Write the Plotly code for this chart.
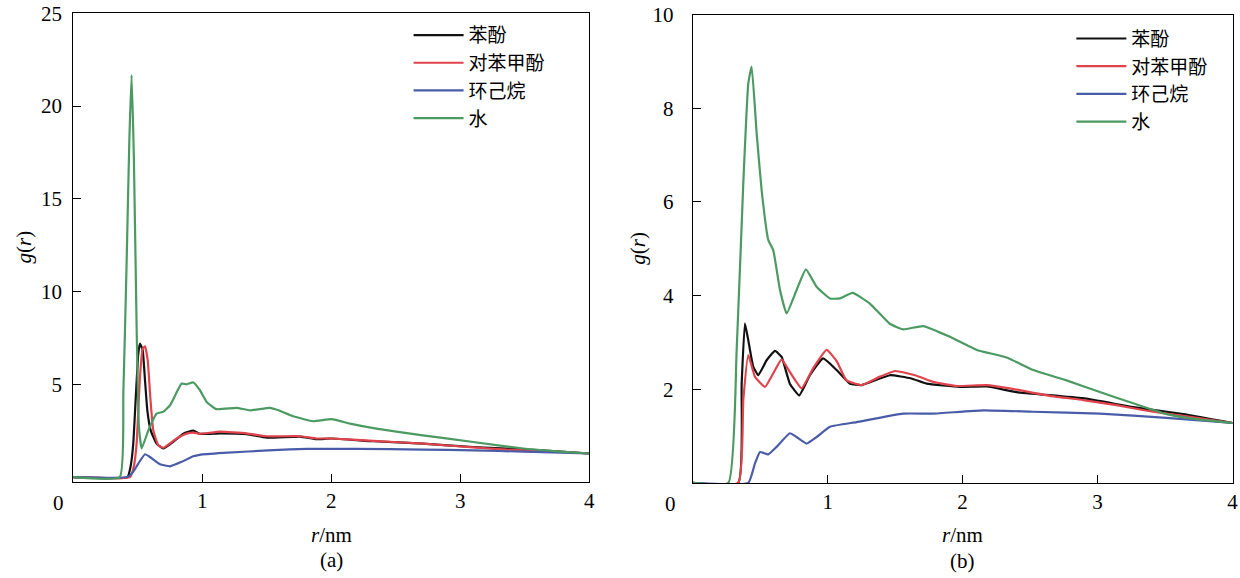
import plotly.graph_objects as go

# ---- data: (a) and (b) radial distribution functions ----
a_phenol_r = [0, 0.42, 0.445, 0.465, 0.486, 0.504, 0.517, 0.538, 0.556, 0.574, 0.60, 0.646, 0.698,
              0.775, 0.853, 0.93, 0.98, 1.137, 1.344, 1.5, 1.757, 1.887, 2.0, 2.326, 2.71, 3.1, 3.36, 3.75, 4.0]
a_phenol_g = [0, 0, 0.6, 1.8, 4.5, 6.66, 7.2, 6.84, 5.22, 3.6, 2.52, 1.8, 1.54,
              1.9, 2.34, 2.5, 2.33, 2.36, 2.32, 2.12, 2.18, 2.04, 2.08, 1.93, 1.8, 1.62, 1.54, 1.39, 1.27]

a_cresol_r = [0, 0.44, 0.47, 0.491, 0.517, 0.538, 0.556, 0.577, 0.595, 0.62, 0.659, 0.698, 0.80,
              0.879, 0.93, 0.98, 1.137, 1.344, 1.5, 1.757, 1.887, 2.0, 2.326, 2.71, 3.1, 3.36, 3.75, 4.0]
a_cresol_g = [0, 0, 0.6, 1.8, 5.4, 6.93, 7.05, 6.3, 4.5, 2.52, 1.72, 1.58, 2.07,
              2.34, 2.4, 2.33, 2.45, 2.36, 2.2, 2.2, 2.08, 2.08, 1.95, 1.8, 1.6, 1.48, 1.37, 1.27]

a_hexane_r = [0, 0.42, 0.465, 0.504, 0.556, 0.595, 0.672, 0.75, 0.84, 0.93, 0.98, 1.163, 1.55,
              1.81, 2.2, 2.71, 3.1, 3.49, 4.0]
a_hexane_g = [0, 0, 0.28, 0.73, 1.23, 1.08, 0.69, 0.58, 0.82, 1.12, 1.2, 1.3, 1.45,
              1.52, 1.52, 1.48, 1.44, 1.37, 1.27]

a_water_r = [0, 0.36, 0.388, 0.414, 0.434, 0.452, 0.47, 0.491, 0.509, 0.53, 0.582, 0.646, 0.698,
             0.75, 0.84, 0.879, 0.93, 0.982, 1.034, 1.11, 1.266, 1.37, 1.525, 1.59, 1.705, 1.86,
             2.003, 2.145, 2.35, 2.71, 3.1, 3.49, 3.75, 4.0]
a_water_g = [0, 0, 4.5, 11.7, 18.0, 21.67, 17.1, 8.1, 2.7, 1.54, 2.52, 3.42, 3.52,
             3.87, 5.04, 5.0, 5.1, 4.68, 4.05, 3.66, 3.73, 3.6, 3.73, 3.6, 3.28, 3.01,
             3.12, 2.88, 2.61, 2.25, 1.89, 1.54, 1.39, 1.27]

b_phenol_r = [0, 0.338, 0.363, 0.387, 0.412, 0.449, 0.486, 0.548, 0.61, 0.659, 0.72, 0.79, 0.869,
              0.967, 1.067, 1.165, 1.252, 1.461, 1.62, 1.733, 1.98, 2.18, 2.4, 2.89, 3.264, 3.634, 4.0]
b_phenol_g = [0, 0, 2.12, 3.41, 3.05, 2.48, 2.3, 2.62, 2.82, 2.69, 2.12, 1.87, 2.3,
              2.66, 2.41, 2.12, 2.09, 2.30, 2.23, 2.12, 2.05, 2.06, 1.94, 1.81, 1.62, 1.47, 1.28]

b_cresol_r = [0, 0.338, 0.375, 0.412, 0.461, 0.536, 0.597, 0.659, 0.72, 0.807, 0.893, 0.993, 1.067,
              1.14, 1.252, 1.387, 1.5, 1.647, 1.78, 1.956, 2.18, 2.35, 2.647, 2.893, 3.14, 3.387, 3.634, 4.0]
b_cresol_g = [0, 0, 1.77, 2.73, 2.27, 2.05, 2.34, 2.64, 2.37, 2.02, 2.45, 2.84, 2.6,
              2.19, 2.09, 2.27, 2.39, 2.30, 2.16, 2.07, 2.09, 2.02, 1.86, 1.77, 1.66, 1.53, 1.43, 1.28]

b_hexane_r = [0, 0.412, 0.461, 0.499, 0.56, 0.622, 0.72, 0.77, 0.844, 0.918, 1.017, 1.215, 1.56,
              1.78, 2.153, 2.52, 3.017, 3.51, 4.0]
b_hexane_g = [0, 0, 0.41, 0.66, 0.61, 0.77, 1.06, 0.98, 0.84, 0.98, 1.2, 1.30, 1.48,
              1.48, 1.55, 1.52, 1.48, 1.39, 1.28]

b_water_r = [0, 0.264, 0.326, 0.375, 0.412, 0.437, 0.474, 0.511, 0.56, 0.597, 0.647, 0.696, 0.77,
             0.839, 0.918, 1.017, 1.09, 1.185, 1.313, 1.46, 1.56, 1.708, 1.906, 2.104, 2.326,
             2.523, 2.77, 3.017, 3.264, 3.51, 3.758, 4.0]
b_water_g = [0, 0, 2.84, 6.4, 8.53, 8.89, 7.47, 6.25, 5.19, 4.97, 4.12, 3.62, 4.12,
             4.56, 4.19, 3.94, 3.94, 4.06, 3.83, 3.4, 3.28, 3.35, 3.12, 2.84, 2.68,
             2.41, 2.19, 1.94, 1.70, 1.47, 1.35, 1.28]

names = ["苯酚", "对苯甲酚", "环己烷", "水"]
colors = ["#111111", "#e0434c", "#4a5ca8", "#4b9a62"]

x_ticks = [0, 1, 2, 3, 4]
x_ticktext = ["", "1", "2", "3", "4"]
a_y_ticks = [5, 10, 15, 20, 25]
b_y_ticks = [2, 4, 6, 8, 10]

SERIF = "Liberation Serif, Times New Roman, Noto Sans CJK SC, serif"
CJK = "Liberation Serif, Noto Sans CJK SC, serif"

panels = [
    ("x", "y", "legend", [(a_phenol_r, a_phenol_g), (a_cresol_r, a_cresol_g),
                          (a_hexane_r, a_hexane_g), (a_water_r, a_water_g)]),
    ("x2", "y2", "legend2", [(b_phenol_r, b_phenol_g), (b_cresol_r, b_cresol_g),
                             (b_hexane_r, b_hexane_g), (b_water_r, b_water_g)]),
]

fig = go.Figure()
for xa, ya, leg, series in panels:
    for (r, g), name, color in zip(series, names, colors):
        fig.add_trace(go.Scatter(
            x=r, y=g, name=name, mode="lines",
            line=dict(color=color, width=2.2, shape="spline", smoothing=0.4),
            xaxis=xa, yaxis=ya, legend=leg
        ))


def axis_style(**kw):
    base = dict(
        showline=True, linecolor="black", linewidth=1, mirror=True,
        ticks="inside", ticklen=8, tickcolor="black",
        showgrid=False, zeroline=False, automargin=False,
        tickfont=dict(family=SERIF, size=21, color="black"),
    )
    base.update(kw)
    return base


legend_style = dict(
    font=dict(family=CJK, size=19, color="black"),
    bgcolor="rgba(0,0,0,0)", borderwidth=0,
    xanchor="left", yanchor="top", itemwidth=50,
    tracegroupgap=0,
)

fig.update_layout(
    template="none",
    width=1240, height=578,
    margin=dict(l=0, r=0, t=0, b=0, autoexpand=False),
    paper_bgcolor="white", plot_bgcolor="white",
    xaxis=axis_style(domain=[0.0591, 0.4752], range=[0, 4], tickvals=x_ticks,
                     ticktext=x_ticktext, anchor="y"),
    yaxis=axis_style(domain=[0.1666, 0.977], range=[-0.25, 25], tickvals=a_y_ticks,
                     anchor="x", ticklabelstandoff=6),
    xaxis2=axis_style(domain=[0.5586, 0.994], range=[0, 4], tickvals=x_ticks,
                      ticktext=x_ticktext, anchor="y2"),
    yaxis2=axis_style(domain=[0.1645, 0.9746], range=[0, 10], tickvals=b_y_ticks,
                      anchor="x2", ticklabelstandoff=14),
    legend=dict(legend_style, x=0.3295, y=0.972),
    legend2=dict(legend_style, x=0.864, y=0.966),
    showlegend=True,
)

txt = dict(family=SERIF, size=21, color="black")
annotations = [
    # origin labels sit left of the axis corner
    dict(x=0, y=0, xref="x", yref="y domain", text="0", showarrow=False,
         xanchor="center", yanchor="middle", xshift=-15, yshift=-21, font=txt),
    dict(x=0, y=0, xref="x2", yref="y2 domain", text="0", showarrow=False,
         xanchor="center", yanchor="middle", xshift=-22, yshift=-21, font=txt),
    # axis titles
    dict(x=0.5, y=0, xref="x domain", yref="paper", yanchor="middle", text="<i>r</i>/nm",
         showarrow=False, yshift=578 - 535, font=txt),
    dict(x=0.5, y=0, xref="x2 domain", yref="paper", yanchor="middle", text="<i>r</i>/nm",
         showarrow=False, yshift=578 - 535, font=txt),
    dict(x=0.5, y=0, xref="x domain", yref="paper", yanchor="middle", text="(a)",
         showarrow=False, yshift=578 - 560, font=txt),
    dict(x=0.5, y=0, xref="x2 domain", yref="paper", yanchor="middle", text="(b)",
         showarrow=False, yshift=578 - 561, font=txt),
    dict(x=24 / 1240, y=0.5, xref="paper", yref="y domain", xanchor="center", text="<i>g</i>(<i>r</i>)",
         showarrow=False, textangle=-90, font=txt),
    dict(x=638 / 1240, y=0.5, xref="paper", yref="y2 domain", xanchor="center", text="<i>g</i>(<i>r</i>)",
         showarrow=False, textangle=-90, font=txt),
]
fig.update_layout(annotations=annotations)

fig.write_html("out.html", config={"displayModeBar": False},
               post_script="document.body.style.margin='0';")
